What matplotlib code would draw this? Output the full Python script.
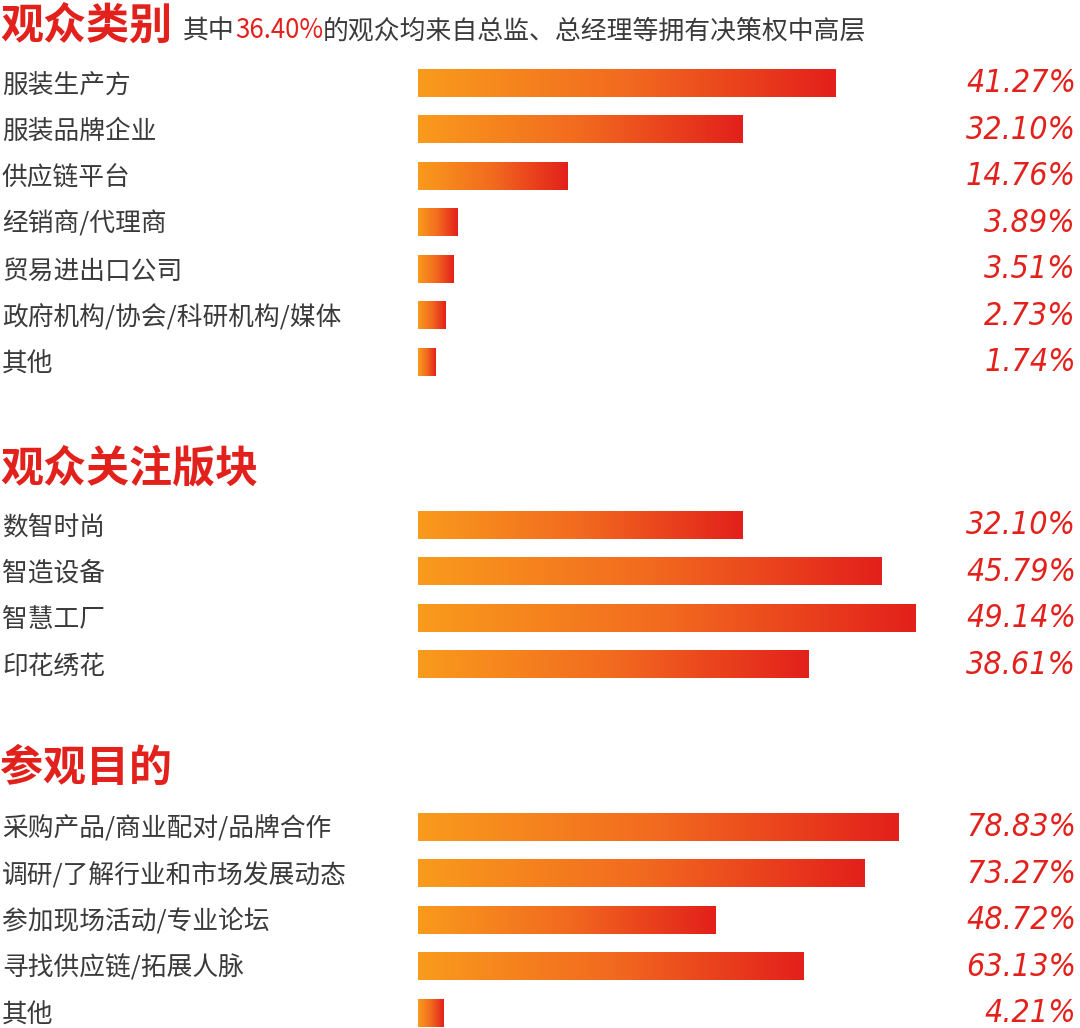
import matplotlib
matplotlib.use('Agg')
import matplotlib.pyplot as plt
import numpy as np
from matplotlib.colors import LinearSegmentedColormap

plt.rcParams['font.family'] = ['Noto Sans CJK SC', 'DejaVu Sans']

### data ###
cat_title = '观众类别'
cat_labels = ['服装生产方', '服装品牌企业', '供应链平台', '经销商/代理商',
              '贸易进出口公司', '政府机构/协会/科研机构/媒体', '其他']
cat_values = [41.27, 32.10, 14.76, 3.89, 3.51, 2.73, 1.74]
cat_note = ['其中', '36.40%', '的观众均来自总监、总经理等拥有决策权中高层']

focus_title = '观众关注版块'
focus_labels = ['数智时尚', '智造设备', '智慧工厂', '印花绣花']
focus_values = [32.10, 45.79, 49.14, 38.61]

purpose_title = '参观目的'
purpose_labels = ['采购产品/商业配对/品牌合作', '调研/了解行业和市场发展动态',
                  '参加现场活动/专业论坛', '寻找供应链/拓展人脉', '其他']
purpose_values = [78.83, 73.27, 48.72, 63.13, 4.21]

### style ###
W, H = 1080, 1028
RED = '#e3211c'
GREY = '#3a3a3a'
grad = LinearSegmentedColormap.from_list('bar', ['#f99b1c', '#f26a1f', '#e3201b'])
ramp = np.linspace(0, 1, 256).reshape(1, -1)

fig = plt.figure(figsize=(W / 100, H / 100), dpi=100)


# draws one block of gradient bars, row labels on the left and values on the right
def section(labels, values, first_center, px_per_pct, step=46.5, bar_h=0.6):
	n = len(labels)
	top = first_center - step / 2
	bottom = first_center + (n - 1) * step + step / 2
	ax = fig.add_axes([0, 1 - bottom / H, 1, (bottom - top) / H])
	ax.set_axis_off()
	tr = ax.get_yaxis_transform()
	for i, (lab, v) in enumerate(zip(labels, values)):
		ax.imshow(ramp, cmap=grad, aspect='auto', interpolation='bicubic',
		          extent=(0, v, i + bar_h / 2, i - bar_h / 2))
		ax.text(2 / W, i + 0.05, lab, transform=tr, ha='left', va='center',
		        fontsize=18.5, color=GREY)
		ax.text(1076 / W, i + 0.02, '%.2f%%' % v, transform=tr, ha='right', va='center',
		        fontsize=23, style='italic', stretch='condensed', color=RED,
		        family='DejaVu Sans')
	ax.set_xlim(-418 / px_per_pct, (W - 418) / px_per_pct)
	ax.set_ylim(n - 0.5, -0.5)
	return ax


ax1 = section(cat_labels, cat_values, 83, 10.12)
ax2 = section(focus_labels, focus_values, 525, 10.12)
ax3 = section(purpose_labels, purpose_values, 827, 6.1)

# section titles
for title, yc in [(cat_title, 26), (focus_title, 468), (purpose_title, 768)]:
	fig.text(0, 1 - yc / H, title, fontsize=31, weight='black', color=RED,
	         ha='left', va='center')

# subtitle with the red highlighted share
t = fig.text(183 / W, 1 - 31 / H, cat_note[0], fontsize=18.6, color=GREY,
             ha='left', va='center')
t = ax1.annotate(cat_note[1], xy=(1, 0), xycoords=t, fontsize=18.6, color=RED,
                 ha='left', va='bottom', annotation_clip=False)
ax1.annotate(cat_note[2], xy=(1, 0), xycoords=t, fontsize=18.6, color=GREY,
             ha='left', va='bottom', annotation_clip=False)

plt.savefig('out.png', dpi=100)
plt.close()
